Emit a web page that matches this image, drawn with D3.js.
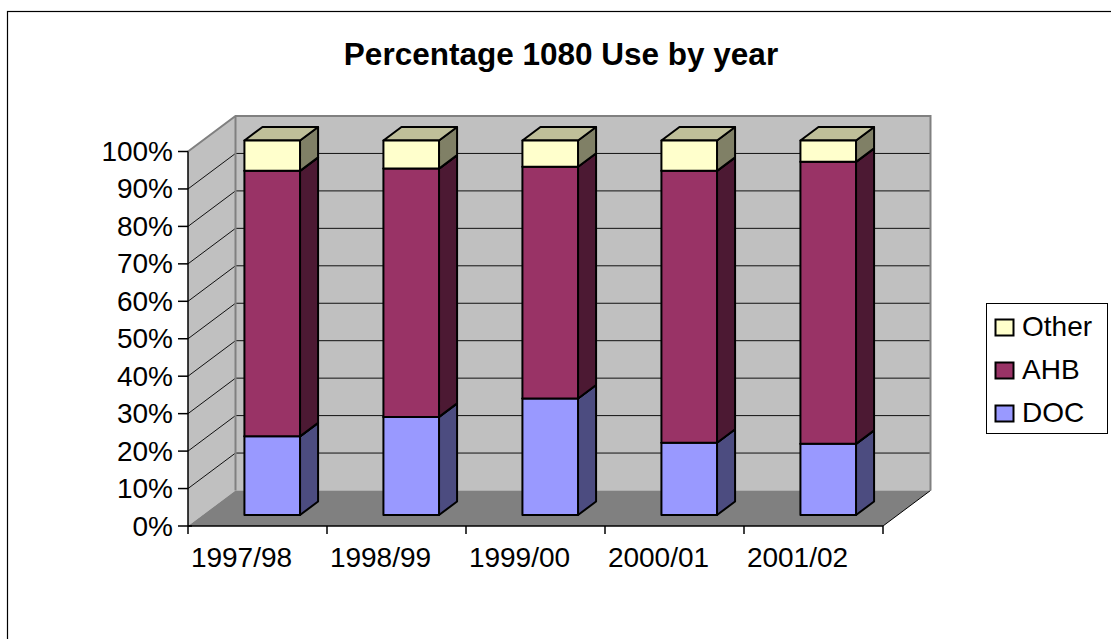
<!DOCTYPE html>
<html>
<head>
<meta charset="utf-8">
<script src="https://cdn.jsdelivr.net/npm/d3@7"></script>
<style>
  html, body { margin: 0; padding: 0; background: #fff; }
  svg { display: block; font-family: Arial, "Liberation Sans", sans-serif; }
</style>
</head>
<body>
<svg id="chart" width="1111" height="639"></svg>
<script>
const categories = ["1997/98", "1998/99", "1999/00", "2000/01", "2001/02"];
const docValues = [21.0, 26.2, 31.1, 19.3, 19.0];
const ahbValues = [70.9, 66.3, 61.9, 72.6, 75.3];
const otherValues = [8.1, 7.5, 7.0, 8.1, 5.7];
const seriesNames = ["DOC", "AHB", "Other"];
const yTicks = [0, 10, 20, 30, 40, 50, 60, 70, 80, 90, 100];
const yTickLabels = ["0%", "10%", "20%", "30%", "40%", "50%", "60%", "70%", "80%", "90%", "100%"];
const titleText = "Percentage 1080 Use by year";

const colors = {
  DOC:   { front: "#9999ff", side: "#4c4c80", top: "#7373bf" },
  AHB:   { front: "#993366", side: "#4c1933", top: "#73264d" },
  Other: { front: "#ffffcc", side: "#808066", top: "#bfbf99" }
};

const svg = d3.select("#chart");

// 3D geometry
const DX = 47.5, DY = -35.5;   // full depth offset
const f1 = 0.31, f2 = 0.69;     // bar front / back depth fractions
const x0 = 188, x1 = 883;
const y = d3.scaleLinear().domain([0, 100]).range([526, 151.5]);
const x = d3.scaleBand().domain(categories).range([x0, x1]).paddingInner(0.6).paddingOuter(0.3);
const step = x.step();

// outer border
svg.append("rect").attr("x", 7.5).attr("y", 11.5).attr("width", 1110).attr("height", 700)
  .attr("fill", "#fff").attr("stroke", "#000").attr("stroke-width", 1.2);

// title
svg.append("text").attr("x", 561).attr("y", 65).attr("text-anchor", "middle")
  .attr("font-size", 31.5).attr("font-weight", "bold").text(titleText);

// back wall
const bw = svg.append("g");
bw.append("rect").attr("x", x0 + DX).attr("y", y(100) + DY)
  .attr("width", x1 - x0).attr("height", y(0) - y(100)).attr("fill", "#c0c0c0");
// side wall
bw.append("path").attr("d", d3.line()([[x0, y(100)], [x0 + DX, y(100) + DY], [x0 + DX, y(0) + DY], [x0, y(0)]]))
  .attr("fill", "#c0c0c0");
// floor
bw.append("path").attr("d", d3.line()([[x0, y(0)], [x0 + DX, y(0) + DY], [x1 + DX, y(0) + DY], [x1, y(0)]]) + "Z")
  .attr("fill", "#808080");
bw.append("line").attr("x1", x1).attr("y1", y(0)).attr("x2", x1 + DX).attr("y2", y(0) + DY)
  .attr("stroke", "#000").attr("stroke-width", 1);

// gridlines
yTicks.filter(t => t > 0 && t < 100).forEach(t => {
  bw.append("line").attr("x1", x0 + DX).attr("x2", x1 + DX).attr("y1", y(t) + DY).attr("y2", y(t) + DY)
    .attr("stroke", "#111").attr("stroke-width", 1);
  bw.append("line").attr("x1", x0).attr("y1", y(t)).attr("x2", x0 + DX).attr("y2", y(t) + DY)
    .attr("stroke", "#111").attr("stroke-width", 1);
});
// wall borders (gray)
bw.append("path").attr("d", d3.line()([[x0, y(100)], [x0 + DX, y(100) + DY], [x1 + DX, y(100) + DY], [x1 + DX, y(0) + DY]]))
  .attr("fill", "none").attr("stroke", "#808080").attr("stroke-width", 2);
bw.append("line").attr("x1", x0 + DX).attr("x2", x0 + DX).attr("y1", y(100) + DY).attr("y2", y(0) + DY)
  .attr("stroke", "#808080").attr("stroke-width", 2);

// axes
const ax = svg.append("g");
ax.append("line").attr("x1", x0).attr("x2", x0).attr("y1", y(100)).attr("y2", y(0)).attr("stroke", "#000").attr("stroke-width", 1.5);
yTicks.forEach((t, i) => {
  ax.append("line").attr("x1", x0 - 10).attr("x2", t === 0 ? x0 + 4 : x0).attr("y1", y(t)).attr("y2", y(t))
    .attr("stroke", "#000").attr("stroke-width", 1.5);
  ax.append("text").attr("x", 173).attr("y", y(t) + 9.5).attr("text-anchor", "end")
    .attr("font-size", 28).text(yTickLabels[i]);
});
ax.append("line").attr("x1", x0).attr("x2", x1).attr("y1", y(0)).attr("y2", y(0)).attr("stroke", "#000").attr("stroke-width", 1.5);
const boundaries = categories.map(c => x(c) - step * 0.3).concat([x1]);
boundaries.forEach(bx => {
  ax.append("line").attr("x1", bx).attr("x2", bx).attr("y1", y(0)).attr("y2", y(0) + 8)
    .attr("stroke", "#000").attr("stroke-width", 1.5);
});
categories.forEach(c => {
  ax.append("text").attr("x", x(c) + x.bandwidth() / 2 - 16).attr("y", 567).attr("text-anchor", "middle")
    .attr("font-size", 28).text(c);
});

// bars
const rows = categories.map((c, i) => ({ cat: c, DOC: docValues[i], AHB: ahbValues[i], Other: otherValues[i] }));
const stacked = d3.stack().keys(seriesNames)(rows);
const bars = svg.append("g");
categories.forEach((c, i) => {
  stacked.forEach(s => {
    const d = s[i];
    const col = colors[s.key];
    const xl = x(c) + f1 * DX, xr = xl + x.bandwidth();
    const yb = y(d[0]) + f1 * DY, yt = y(d[1]) + f1 * DY;
    const ddx = (f2 - f1) * DX, ddy = (f2 - f1) * DY;
    const g = bars.append("g").attr("stroke", "#000").attr("stroke-width", 2).attr("stroke-linejoin", "round");
    g.append("path").attr("d", d3.line()([[xr, yb], [xr + ddx, yb + ddy], [xr + ddx, yt + ddy], [xr, yt]]) + "Z").attr("fill", col.side);
    g.append("path").attr("d", d3.line()([[xl, yt], [xr, yt], [xr + ddx, yt + ddy], [xl + ddx, yt + ddy]]) + "Z").attr("fill", col.top);
    g.append("rect").attr("x", xl).attr("y", yt).attr("width", xr - xl).attr("height", yb - yt).attr("fill", col.front);
  });
});

// legend
const lg = svg.append("g");
lg.append("rect").attr("x", 986.5).attr("y", 303.5).attr("width", 121).attr("height", 130)
  .attr("fill", "#fff").attr("stroke", "#000").attr("stroke-width", 1);
const legendOrder = ["Other", "AHB", "DOC"];
legendOrder.forEach((k, i) => {
  const by = 336 + i * 43;
  lg.append("rect").attr("x", 995.5).attr("y", by - 16.5).attr("width", 18).attr("height", 16)
    .attr("fill", colors[k].front).attr("stroke", "#000").attr("stroke-width", 2);
  lg.append("text").attr("x", 1022).attr("y", by).attr("font-size", 28).text(k);
});
</script>
</body>
</html>
